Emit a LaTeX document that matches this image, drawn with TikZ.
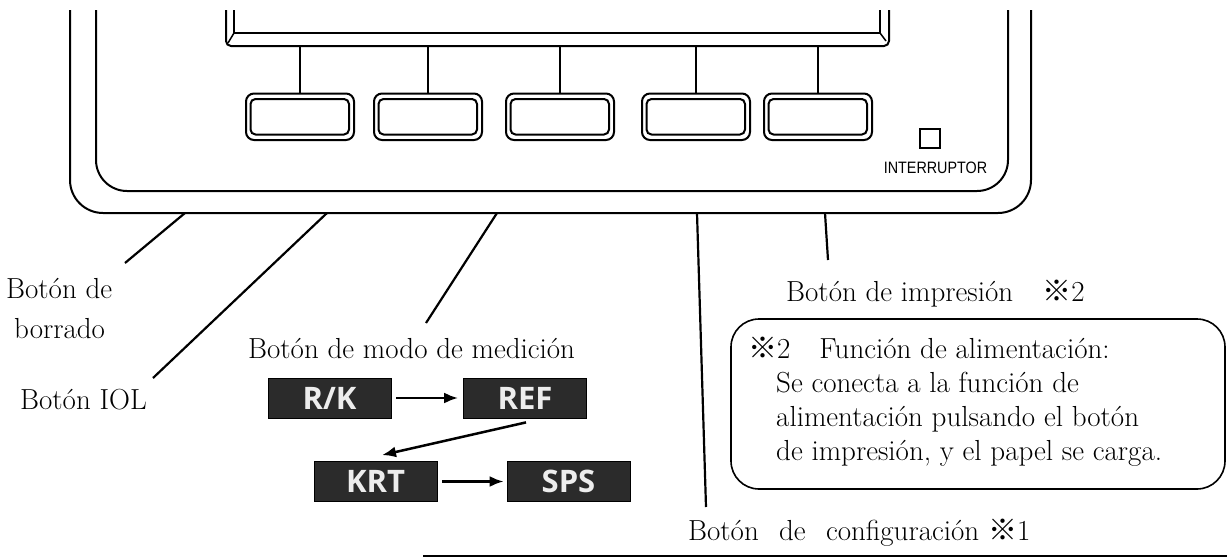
\documentclass[tikz,border=0pt]{standalone}
\usepackage{fontspec}
\newfontfamily\cjk{Noto Sans CJK JP}
\newfontfamily\modefont{Open Sans}
\newfontfamily\labelsans{Liberation Sans}
\usetikzlibrary{arrows.meta,calc}
\definecolor{modebg}{HTML}{2B2B2B}
\definecolor{modetxt}{HTML}{EDEDED}
\definecolor{baseline}{HTML}{5A5A5A}
\begin{document}
\begin{tikzpicture}[x=1pt,y=-1pt,
  frame/.style={line width=2pt},
  lbl/.style={font=\fontsize{29}{34}\selectfont, inner sep=0pt, anchor=base west},
  leader/.style={line width=2.2pt},
  modebox/.style={fill=modebg, draw=black, line width=0.8pt, minimum width=123pt,
    minimum height=40pt, inner sep=0pt, text=modetxt,
    font=\modefont\bfseries\fontsize{31}{31}\selectfont},
  flow/.style={line width=2.5pt, -{Latex[length=14pt,width=11pt]}},
  btnout/.style={rounded corners=8pt, line width=2pt},
  btnin/.style={rounded corners=5pt, line width=2pt}]

\useasboundingbox (0,0) rectangle (1227,557);

% housing
\draw[frame, rounded corners=33pt] (70,10) -- (70,213) -- (1031,213) -- (1031,10);
\draw[frame, rounded corners=31pt] (96,10) -- (96,191) -- (1008,191) -- (1008,10);
% screen bezel
\draw[frame, rounded corners=5pt] (226,10) -- (226,46) -- (889,46) -- (889,10);
\draw[frame] (234,10) -- (234,33) -- (880,33) -- (880,10);
\draw[line width=1.5pt] (234,33) -- (228,43);
\draw[line width=1.5pt] (880,33) -- (886,41);

% soft keys
\foreach \x/\c in {246/300, 374/428, 506/560, 642/696, 764/818}{
  \draw[btnout] (\x,93.5) rectangle ++(108,46.5);
  \draw[btnin] (\x+4.5,99) rectangle ++(98.5,35.5);
  \draw[line width=1.8pt] (\c,46) -- (\c,93.5);
}

% power switch
\draw[line width=1.6pt] (920,129) rectangle (940,148);
\node[font=\labelsans\fontsize{16.5}{16.5}\selectfont, anchor=base, inner sep=0pt] (intr) at (935.5,173) {\scalebox{0.87}[1]{INTERRUPTOR}};

% leader coordinates
\coordinate (bor0) at (185,213); \coordinate (bor1) at (125,263);
\coordinate (iol0) at (327,213); \coordinate (iol1) at (153,378);
\coordinate (med0) at (497,213); \coordinate (med1) at (426,323);
\coordinate (cfg0) at (697,213); \coordinate (cfg1) at (706,507);
\coordinate (imp0) at (825,213); \coordinate (imp1) at (828,260);
\draw[leader] (bor0) -- (bor1);
\draw[leader] (iol0) -- (iol1);
\draw[leader] (med0) -- (med1);
\draw[leader] (cfg0) -- (cfg1);
\draw[leader] (imp0) -- (imp1);

% labels
\node[lbl] (borr1) at (6,298) {Botón de};
\node[lbl] (borr2) at (14,338) {borrado};
\node[lbl] (iol) at (20,409) {Botón IOL};
\node[lbl] (med) at (248,358) {Botón de modo de medición};
\node[lbl] (imp) at (786,301) {Botón de impresión\hspace{1em}{\cjk ※}2};
\node[lbl] (conf) at (688,540) {Botón\hspace{0.7em}de\hspace{0.7em}configuración {\cjk ※}1};

% note box
\draw[line width=1.6pt, rounded corners=28pt] (731,319) rectangle (1225,489);
\node[lbl] (note1) at (748,358) {{\cjk ※}2\hspace{1em}Función de alimentación:};
\node[lbl] (note2) at (776,392) {Se conecta a la función de};
\node[lbl] (note3) at (776,426) {alimentación pulsando el botón};
\node[lbl] (note4) at (776,460) {de impresión, y el papel se carga.};

% measurement modes
\node[modebox] (rk) at (329.5,398) {R/K};
\node[modebox] (ref) at (525,398) {REF};
\node[modebox] (krt) at (375.5,481.5) {KRT};
\node[modebox] (sps) at (568.5,481.5) {SPS};
\draw[flow, shorten <=5pt, shorten >=5pt] (rk.east) -- (ref.west);
\draw[flow] ($(ref.south)+(1,4)$) -- ($(krt.north)+(6.5,-6)$);
\draw[flow, shorten <=5pt, shorten >=3pt] (krt.east) -- (sps.west);

% bottom rule
\coordinate (rule0) at (423,556); \coordinate (rule1) at (1227,556);
\draw[line width=2pt, baseline] (rule0) -- (rule1);
\end{tikzpicture}
\end{document}
